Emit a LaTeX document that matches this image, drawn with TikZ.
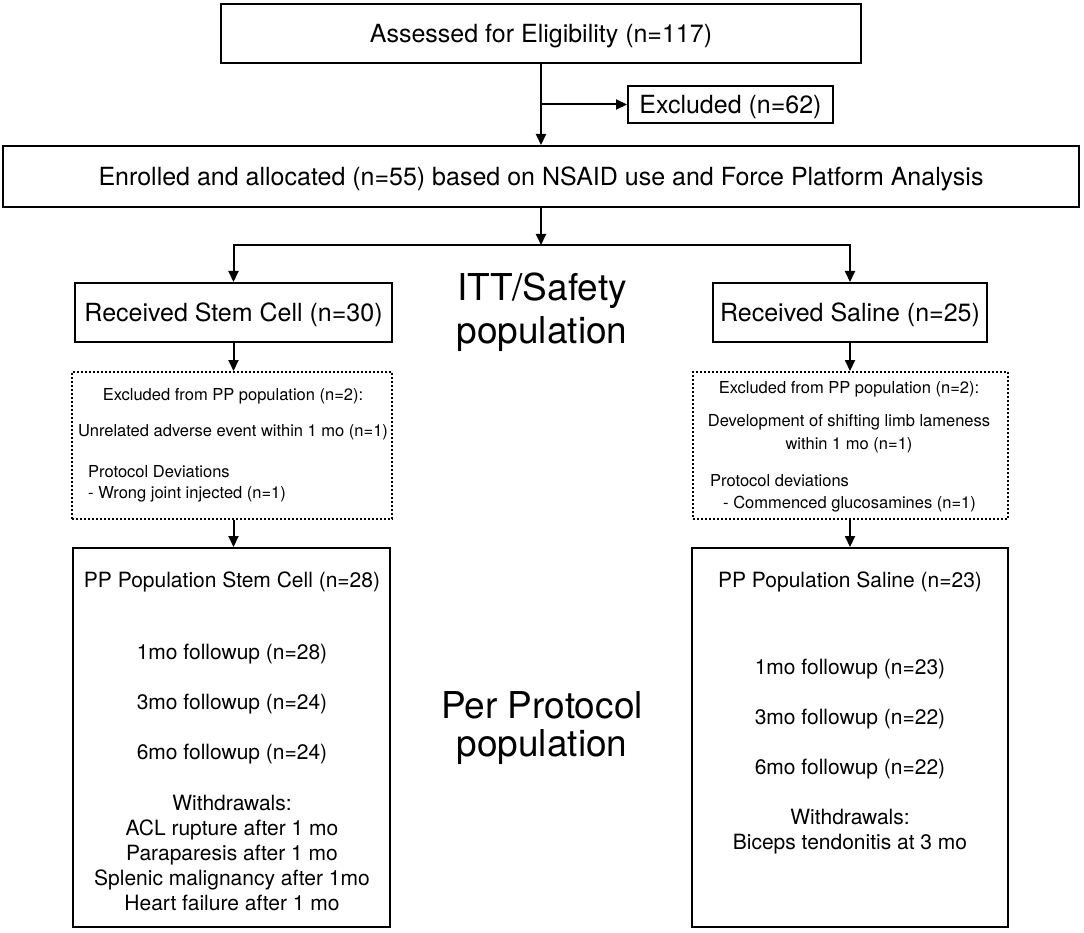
\documentclass[tikz,border=0pt]{standalone}
\usepackage{fontspec}
\setmainfont{TeX Gyre Heros}
\usetikzlibrary{arrows.meta}
\begin{document}
\begin{tikzpicture}[x=1pt,y=-1pt,
  box/.style={draw,line width=2pt,inner sep=0pt,font=\fontsize{25}{30}\selectfont,text height=18pt,text depth=0pt},
  dotbox/.style={draw,line width=2pt,dash pattern=on 2pt off 2pt,inner sep=0pt},
  conn/.style={line width=2pt,-{Triangle[length=11pt,width=10pt]}},
  small/.style={font=\fontsize{16.5}{20}\selectfont,anchor=base,inner sep=0pt},
  mid/.style={font=\fontsize{21}{25}\selectfont,anchor=base,inner sep=0pt},
  big/.style={font=\fontsize{37}{44}\selectfont,anchor=base,inner sep=0pt},
]
\useasboundingbox[fill=white] (0,0) rectangle (1084,933);

% main boxes
\node[box,minimum width=640pt,minimum height=59pt] (assess) at (541,33.5) {Assessed for Eligibility (n=117)};
\node[box,minimum width=205pt,minimum height=37pt] (excl) at (730.5,104.5) {Excluded (n=62)};
\node[box,minimum width=1076pt,minimum height=61pt] (enrol) at (541,176.5) {Enrolled and allocated (n=55) based on NSAID use and Force Platform Analysis};
\node[box,minimum width=317pt,minimum height=59pt] (recS) at (233.5,312.5) {Received Stem Cell (n=30)};
\node[box,minimum width=274pt,minimum height=59pt] (recN) at (850,312.5) {Received Saline (n=25)};

% dotted boxes
\node[dotbox,minimum width=320pt,minimum height=147pt] (dotS) at (232,445.5) {};
\node[dotbox,minimum width=315pt,minimum height=147pt] (dotN) at (850.5,445.5) {};

% PP boxes
\node[draw,line width=2pt,inner sep=0pt,minimum width=317pt,minimum height=379pt] (ppS) at (231.5,737.5) {};
\node[draw,line width=2pt,inner sep=0pt,minimum width=316pt,minimum height=379pt] (ppN) at (850,737.5) {};

% connectors
\draw[conn] (assess.south) -- (enrol.north);
\draw[conn] (assess.south |- excl.west) -- (excl.west);
\coordinate (split) at (541,245);
\draw[conn] (enrol.south) -- (split);
\draw[conn] (split) -| (recS.north);
\draw[conn] (split) -| (recN.north);
\draw[conn] (recS.south) -- (recS.south |- dotS.north);
\draw[conn] (recN.south) -- (recN.south |- dotN.north);
\draw[conn] (recS.south |- dotS.south) -- (recS.south |- ppS.north);
\draw[conn] (recN.south |- dotN.south) -- (recN.south |- ppN.north);

% middle labels
\node[big] (itt1) at (542,301) {ITT/Safety};
\node[big] (itt2) at (542,343) {population};
\node[big] (pp1) at (542,718) {Per Protocol};
\node[big] (pp2) at (542,756) {population};

% left dotted texts
\node[small] (dS1) at (233,400) {Excluded from PP population (n=2):};
\node[small] (dS2) at (233,436) {Unrelated adverse event within 1 mo (n=1)};
\node[small,anchor=base west] (dS3) at (88,477) {Protocol Deviations};
\node[small,anchor=base west] (dS4) at (88,498) {- Wrong joint injected (n=1)};

% right dotted texts
\node[small] (dN1) at (849,393) {Excluded from PP population (n=2):};
\node[small] (dN2) at (849,426) {Development of shifting limb lameness};
\node[small] (dN3) at (849,449) {within 1 mo (n=1)};
\node[small,anchor=base west] (dN4) at (710,486) {Protocol deviations};
\node[small,anchor=base west] (dN5) at (723,508) {- Commenced glucosamines (n=1)};

% left PP texts
\node[mid] (pS1) at (232,587.5) {PP Population Stem Cell (n=28)};
\node[mid] (pS2) at (232,659.5) {1mo followup (n=28)};
\node[mid] (pS3) at (232,709.5) {3mo followup (n=24)};
\node[mid] (pS4) at (232,759.5) {6mo followup (n=24)};
\node[mid] (pS5) at (232,810.5) {Withdrawals:};
\node[mid] (pS6) at (232,835.5) {ACL rupture after 1 mo};
\node[mid] (pS7) at (232,860.5) {Paraparesis after 1 mo};
\node[mid] (pS8) at (232,885.5) {Splenic malignancy after 1mo};
\node[mid] (pS9) at (232,910.5) {Heart failure after 1 mo};

% right PP texts
\node[mid] (pN1) at (850,587.5) {PP Population Saline (n=23)};
\node[mid] (pN2) at (850,674.5) {1mo followup (n=23)};
\node[mid] (pN3) at (850,724.5) {3mo followup (n=22)};
\node[mid] (pN4) at (850,774.5) {6mo followup (n=22)};
\node[mid] (pN5) at (850,824.5) {Withdrawals:};
\node[mid] (pN6) at (850,849.5) {Biceps tendonitis at 3 mo};
\end{tikzpicture}
\end{document}
